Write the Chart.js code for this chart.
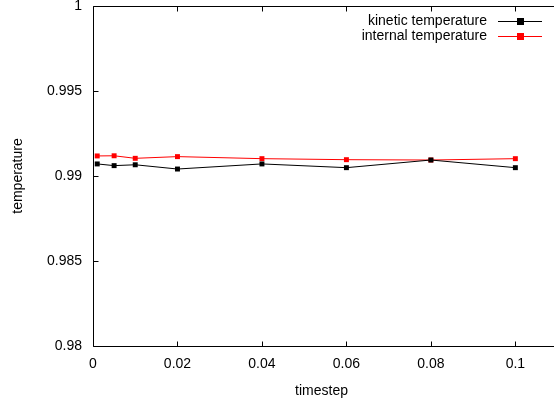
<!DOCTYPE html>
<html>
<head>
<meta charset="utf-8">
<script src="https://cdn.jsdelivr.net/npm/chart.js@4/dist/chart.umd.min.js"></script>
<style>
  html, body { margin: 0; padding: 0; background: #fff; }
  #wrap { width: 554px; height: 400px; }
</style>
</head>
<body>
<div id="wrap"><canvas id="tempChart" width="554" height="400"></canvas></div>
<script>
// timestep values and measured temperatures
const timesteps = [0.001, 0.005, 0.01, 0.02, 0.04, 0.06, 0.08, 0.1];
const kineticTemp = [0.99071, 0.99061, 0.99066, 0.99041, 0.99071, 0.99049, 0.99094, 0.99049];
const internalTemp = [0.99118, 0.99119, 0.99104, 0.99114, 0.99102, 0.99096, 0.99094, 0.99102];

const xTicks = [0, 0.02, 0.04, 0.06, 0.08, 0.1];
const xTickLabels = ['0', '0.02', '0.04', '0.06', '0.08', '0.1'];
const yTicks = [0.98, 0.985, 0.99, 0.995, 1];
const yTickLabels = ['0.98', '0.985', '0.99', '0.995', '1'];

const font = "Liberation Sans, Arial, sans-serif";

function toPoints(values) {
  return timesteps.map((t, i) => ({ x: t, y: values[i] }));
}

// gnuplot-style frame: inward ticks, mirrored on top
const framePlugin = {
  id: 'frame',
  afterDatasetsDraw(chart) {
    const { ctx, chartArea: a, scales } = chart;
    const len = 5;
    const top = Math.round(a.top) + 0.5;
    const bottom = Math.round(a.bottom) + 0.5;
    const left = Math.round(a.left) + 0.5;
    ctx.save();
    ctx.strokeStyle = '#000';
    ctx.lineWidth = 1;
    ctx.beginPath();
    ctx.moveTo(a.right + 5, top);
    ctx.lineTo(left, top);
    ctx.lineTo(left, bottom);
    ctx.lineTo(a.right + 5, bottom);
    xTicks.forEach(v => {
      const px = Math.round(scales.x.getPixelForValue(v)) + 0.5;
      ctx.moveTo(px, bottom); ctx.lineTo(px, bottom - len);
      ctx.moveTo(px, top); ctx.lineTo(px, top + len);
    });
    yTicks.forEach(v => {
      const py = Math.round(scales.y.getPixelForValue(v)) + 0.5;
      ctx.moveTo(left, py); ctx.lineTo(left + len, py);
    });
    ctx.stroke();

    // legend, right aligned text followed by a sample line
    ctx.font = '14px ' + font;
    ctx.textAlign = 'right';
    ctx.textBaseline = 'middle';
    chart.data.datasets.forEach((ds, i) => {
      const y = 21 + i * 15;
      ctx.fillStyle = '#000';
      ctx.fillText(ds.label, 487, y);
      ctx.strokeStyle = ds.borderColor;
      ctx.beginPath();
      ctx.moveTo(498, y + 0.5);
      ctx.lineTo(542, y + 0.5);
      ctx.stroke();
      ctx.fillStyle = ds.pointBackgroundColor;
      ctx.fillRect(517, y - 3, 7, 7);
    });
    ctx.restore();
  }
};

function makeSet(label, values, color) {
  return {
    label,
    data: toPoints(values),
    showLine: true,
    borderColor: color,
    borderWidth: 1,
    pointStyle: 'rect',
    pointRadius: 3.5,
    pointBackgroundColor: color,
    pointBorderColor: color,
    pointBorderWidth: 0,
    tension: 0
  };
}

new Chart(document.getElementById('tempChart').getContext('2d'), {
  type: 'scatter',
  data: {
    datasets: [
      makeSet('kinetic temperature', kineticTemp, '#000000'),
      makeSet('internal temperature', internalTemp, '#ff0000')
    ]
  },
  options: {
    responsive: false,
    animation: false,
    layout: { padding: { top: 6, right: 1, left: 0, bottom: 0 } },
    plugins: { legend: { display: false }, tooltip: { enabled: false } },
    scales: {
      x: {
        type: 'linear',
        min: 0,
        max: 0.1082,
        afterBuildTicks: s => { s.ticks = xTicks.map(v => ({ value: v })); },
        afterFit: s => { s.height = 54; s.paddingLeft = 0; s.paddingRight = 0; },
        grid: { display: false, drawTicks: false },
        border: { display: false },
        ticks: {
          padding: 10,
          color: '#000',
          font: { family: font, size: 14 },
          maxRotation: 0,
          callback: (v) => xTickLabels[xTicks.indexOf(v)]
        },
        title: {
          display: true,
          text: 'timestep',
          color: '#000',
          font: { family: font, size: 14 },
          padding: { top: 8, bottom: 0 }
        }
      },
      y: {
        type: 'linear',
        min: 0.98,
        max: 1,
        afterBuildTicks: s => { s.ticks = yTicks.map(v => ({ value: v })); },
        afterFit: s => { s.width = 93; s.paddingTop = 0; s.paddingBottom = 0; },
        grid: { display: false, drawTicks: false },
        border: { display: false },
        ticks: {
          padding: 11,
          color: '#000',
          font: { family: font, size: 14 },
          callback: (v) => yTickLabels[yTicks.indexOf(v)]
        },
        title: {
          display: true,
          text: 'temperature',
          color: '#000',
          font: { family: font, size: 14 },
          padding: { top: 10, bottom: 0 }
        }
      }
    }
  },
  plugins: [framePlugin]
});
</script>
</body>
</html>
